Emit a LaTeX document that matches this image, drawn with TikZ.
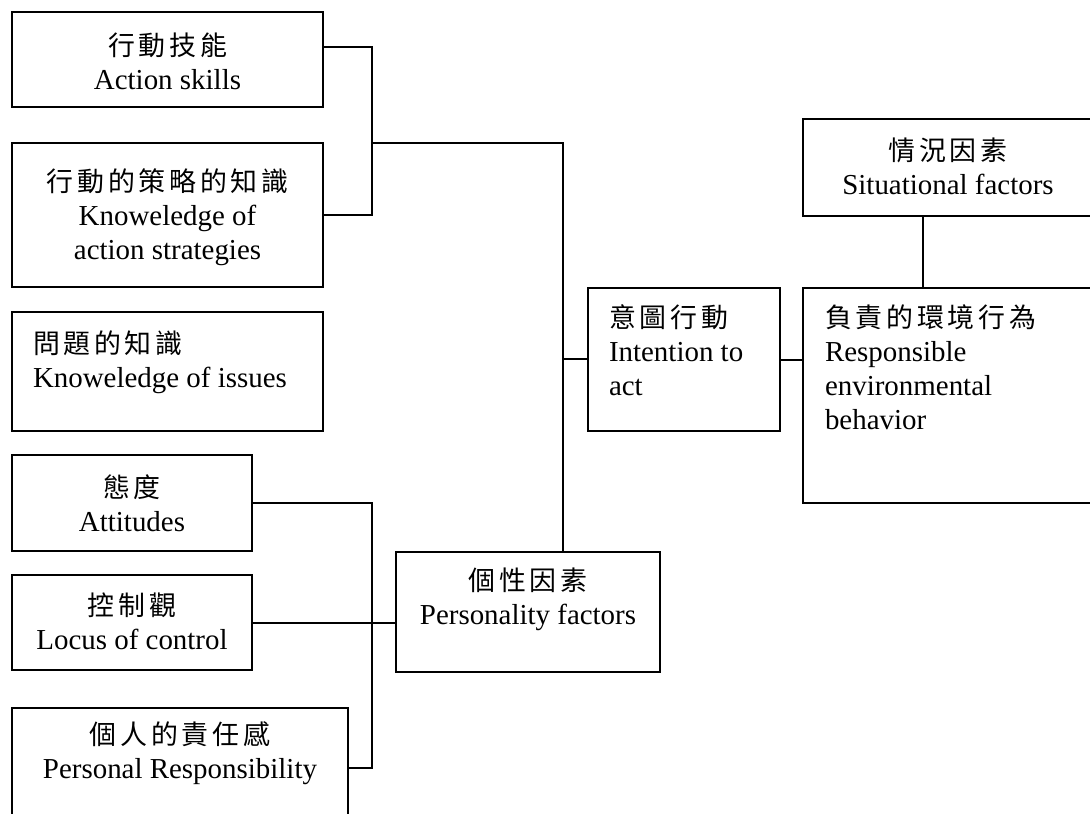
\documentclass[tikz,border=0pt]{standalone}
\usepackage{fontspec}
\setmainfont{Liberation Serif}
\newfontfamily\cjk[LetterSpace=14,Scale=0.93]{Noto Sans CJK TC}
\usetikzlibrary{calc,fit}

\tikzset{
  box/.style={draw, line width=1.5pt, inner sep=0pt},
  txt/.style={inner sep=0pt, anchor=north, align=center, font=\fontsize{21.7}{25.5}\selectfont},
  ltxt/.style={txt, anchor=north west, align=left},
}

\begin{document}
\begin{tikzpicture}[x=0.75pt,y=-0.75pt,line width=1.5pt]
  \useasboundingbox (0,0) rectangle (1090,814);
  \clip (0,0) rectangle (1090,814);
  % boxes
  \node[box, fit={(12,12) (323,107)}] (skills) {};
  \node[box, fit={(12,143) (323,287)}] (strategies) {};
  \node[box, fit={(12,312) (323,431)}] (issues) {};
  \node[box, fit={(12,455) (252,551)}] (attitudes) {};
  \node[box, fit={(12,575) (252,670)}] (locus) {};
  \node[box, fit={(12,708) (348,828)}] (personal) {};
  \node[box, fit={(396,552) (660,672)}] (personality) {};
  \node[box, fit={(588,288) (780,431)}] (intention) {};
  \node[box, fit={(803,288) (1093,503)}] (responsible) {};
  \node[box, fit={(803,119) (1093,216)}] (situational) {};
  % texts
  \node[txt] (skillsT) at ($(skills.north)+(0,21)$) {{\cjk 行動技能}\\Action skills};
  \node[txt] (strategiesT) at ($(strategies.north)+(0,26)$) {{\cjk 行動的策略的知識}\\Knoweledge of\\action strategies};
  \node[ltxt] (issuesT) at ($(issues.north west)+(21,19)$) {{\cjk 問題的知識}\\Knoweledge of issues};
  \node[txt] (attitudesT) at ($(attitudes.north)+(0,20)$) {{\cjk 態度}\\Attitudes};
  \node[txt] (locusT) at ($(locus.north)+(0,18)$) {{\cjk 控制觀}\\Locus of control};
  \node[txt] (personalT) at ($(personal.north)+(0,14)$) {{\cjk 個人的責任感}\\Personal Responsibility};
  \node[txt] (personalityT) at ($(personality.north)+(0,16)$) {{\cjk 個性因素}\\Personality factors};
  \node[ltxt] (intentionT) at ($(intention.north west)+(21,17)$) {{\cjk 意圖行動}\\Intention to\\act};
  \node[ltxt] (responsibleT) at ($(responsible.north west)+(22,17)$) {{\cjk 負責的環境行為}\\Responsible\\environmental\\behavior};
  \node[txt] (situationalT) at ($(situational.north)+(0,19)$) {{\cjk 情況因素}\\Situational factors};
  % connectors
  \coordinate (kbar) at (372,143);
  \coordinate (pbar) at (372,622);
  \coordinate (mbar) at (563,359);
  \draw ($(skills.north east)+(0,36)$) -| (kbar) |- (strategies.east);
  \draw (kbar) -| (mbar) -- (mbar |- personality.north);
  \draw (mbar) -- (mbar -| intention.west);
  \draw (attitudes.east) -| (pbar) |- (personal.east);
  \draw (locus.east) -- (locus.east -| personality.west);
  \draw (intention.east) -- (intention.east -| responsible.west);
  \draw ($(situational.south west)+(121,0)$) -- ($(responsible.north west)+(121,0)$);
\end{tikzpicture}
\end{document}
